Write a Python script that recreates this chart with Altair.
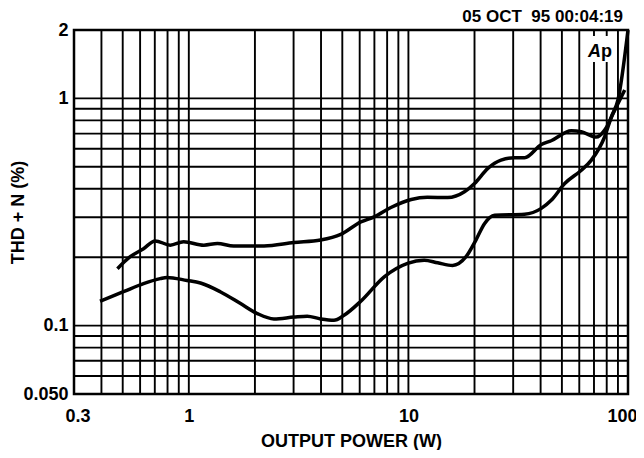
import altair as alt
import pandas as pd

# ---- data ----
upper_x = [0.473, 0.541, 0.622, 0.703, 0.823, 0.947, 1.17, 1.35, 1.60, 2.20, 3.01, 3.98, 4.92,
           6.07, 6.98, 8.32, 10.3, 12.2, 15.1, 18.0, 20.0, 23.0, 26.4, 30.4, 33.8, 40.3, 44.7,
           55.2, 61.3, 71.8, 78.3, 87.0, 96.6]
upper_y = [0.178, 0.201, 0.218, 0.236, 0.226, 0.234, 0.226, 0.230, 0.224, 0.224, 0.232, 0.238, 0.252,
           0.286, 0.301, 0.331, 0.359, 0.367, 0.366, 0.388, 0.422, 0.492, 0.535, 0.548, 0.548, 0.627, 0.651,
           0.720, 0.713, 0.676, 0.725, 0.888, 1.088]
lower_x = [0.394, 0.504, 0.622, 0.741, 0.795, 0.981, 1.13, 1.39, 1.72, 2.05, 2.44, 3.01, 3.46, 3.98,
           4.58, 5.09, 6.07, 7.76, 9.91, 11.8, 13.6, 15.9, 18.3, 20.3, 22.2, 24.7, 33.8, 40.3, 44.7,
           51.5, 61.3, 68.1, 78.3, 84.0, 90.0, 100.0]
lower_y = [0.128, 0.141, 0.153, 0.161, 0.163, 0.158, 0.154, 0.141, 0.125, 0.113, 0.107, 0.109, 0.110, 0.107,
           0.1055, 0.111, 0.128, 0.164, 0.188, 0.194, 0.189, 0.184, 0.201, 0.238, 0.281, 0.306, 0.309, 0.328, 0.356,
           0.422, 0.483, 0.535, 0.678, 0.830, 0.984, 2.0]

x_grid = [0.3, 0.4, 0.5, 0.6, 0.7, 0.8, 0.9, 1, 2, 3, 4, 5, 6, 7, 8, 9, 10,
          20, 30, 40, 50, 60, 70, 80, 90, 100]
y_grid = [0.05, 0.06, 0.07, 0.08, 0.09, 0.1, 0.2, 0.3, 0.4, 0.5, 0.6, 0.7, 0.8, 0.9, 1, 2]

x_tick_values = [0.3, 1, 10, 100]
x_tick_labels = ["0.3", "1", "10", "100"]
y_tick_values = [0.05, 0.1, 1, 2]
y_tick_labels = ["0.050", "0.1", "1", "2"]

x_title = "OUTPUT POWER (W)"
y_title = "THD + N (%)"
timestamp = "05 OCT\u00a0 95 00:04:19"
badge_a = "A"
badge_p = "p"

FONT = "Liberation Sans"
TICK_FS = 18
TITLE_FS = 18


def label_expr(values, labels):
    expr = "''"
    for v, l in reversed(list(zip(values, labels))):
        expr = f"datum.value == {v} ? '{l}' : ({expr})"
    return expr


xs = alt.Scale(type="log", domain=[0.3, 100], nice=False)
ys = alt.Scale(type="log", domain=[0.05, 2], nice=False)

common_axis = dict(grid=False, ticks=False, tickSize=0, domain=False,
                   labelFont=FONT, labelFontSize=TICK_FS, labelFontWeight="bold",
                   labelColor="black", labelOverlap=False,
                   titleFont=FONT, titleFontSize=TITLE_FS, titleFontWeight="bold",
                   titleColor="black")

x_axis = alt.Axis(values=x_tick_values, labelExpr=label_expr(x_tick_values, x_tick_labels),
                  title=x_title, labelPadding=13, labelFlush=True, labelFlushOffset=9,
                  titleBaseline="alphabetic", titleY=52, titleX=277, titleAlign="center",
                  **common_axis)
y_axis = alt.Axis(values=y_tick_values, labelExpr=label_expr(y_tick_values, y_tick_labels),
                  title=y_title, labelPadding=6, labelFlush=False, titleAngle=270,
                  titleBaseline="alphabetic", titleX=-51, titleY=182, titleAlign="center",
                  **common_axis)

curves = pd.concat([
    pd.DataFrame({"power": upper_x, "thd": upper_y, "series": "a"}),
    pd.DataFrame({"power": lower_x, "thd": lower_y, "series": "b"}),
])

grid_x = alt.Chart(pd.DataFrame({"power": x_grid})).mark_rule(
    color="black", strokeWidth=1.9
).encode(x=alt.X("power:Q", scale=xs, axis=x_axis))

grid_y = alt.Chart(pd.DataFrame({"thd": y_grid})).mark_rule(
    color="black", strokeWidth=1.9
).encode(y=alt.Y("thd:Q", scale=ys, axis=y_axis))

one = pd.DataFrame({"k": [0]})

badge_box = alt.Chart(one).mark_rect(color="white").encode(
    x=alt.value(512), x2=alt.value(540), y=alt.value(6), y2=alt.value(32)
)
badge_a_txt = alt.Chart(one).mark_text(
    text=badge_a, font=FONT, fontSize=18, fontWeight="bold", fontStyle="italic",
    align="right", baseline="alphabetic", color="black"
).encode(x=alt.value(527), y=alt.value(27))
badge_p_txt = alt.Chart(one).mark_text(
    text=badge_p, font=FONT, fontSize=18, fontWeight="bold",
    align="left", baseline="alphabetic", color="black"
).encode(x=alt.value(527), y=alt.value(27))

lines = alt.Chart(curves).mark_line(
    color="black", strokeWidth=3.5, interpolate="monotone"
).encode(
    x=alt.X("power:Q", scale=xs, axis=x_axis),
    y=alt.Y("thd:Q", scale=ys, axis=y_axis),
    detail="series:N",
)

stamp = alt.Chart(one).mark_text(
    text=timestamp, font=FONT, fontSize=17, fontWeight="bold",
    align="right", baseline="alphabetic", color="black"
).encode(x=alt.value(549), y=alt.value(-8))

chart = alt.layer(grid_x, grid_y, badge_box, badge_a_txt, badge_p_txt, lines, stamp).properties(
    width=554, height=364,
    padding={"left": 66, "top": 22, "right": 8, "bottom": 56},
    autosize=alt.AutoSizeParams(type="none"),
).configure_view(stroke="black", strokeWidth=2.5)

chart.save("out.html", embed_options={"renderer": "svg", "actions": False})
